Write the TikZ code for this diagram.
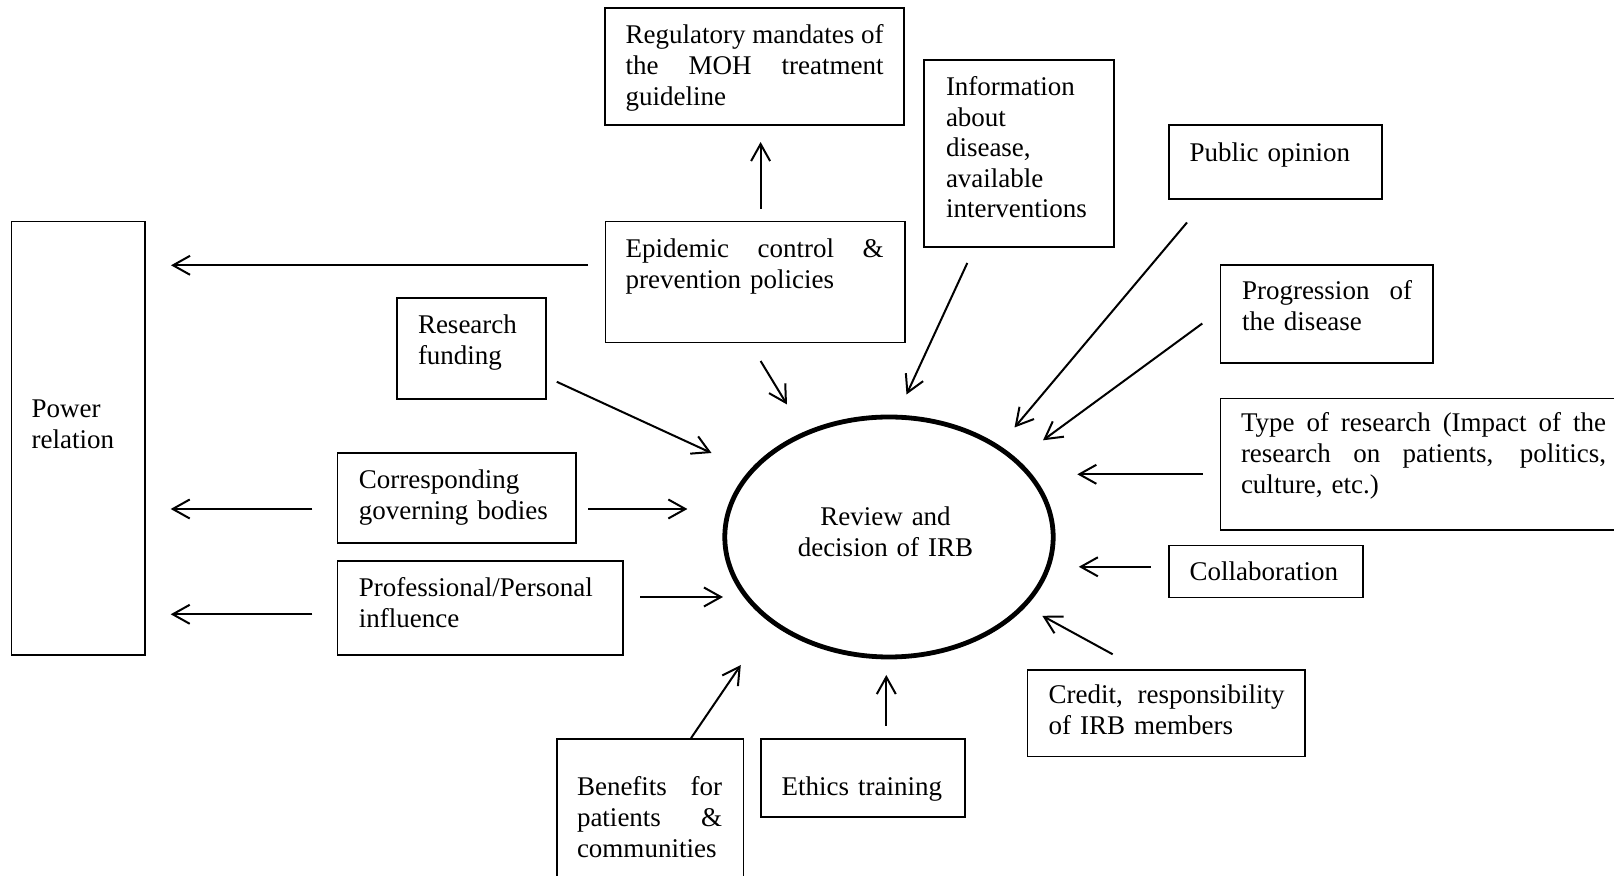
\documentclass[tikz,border=0pt]{standalone}
\usepackage{fontspec}
\setmainfont{Liberation Serif}
\usetikzlibrary{arrows.meta,fit}
\newcommand{\jline}[2]{\makebox[#1][s]{\spaceskip=0pt\xspaceskip=0pt\relax #2}}
\begin{document}
\begin{tikzpicture}[x=0.5pt,y=-0.5pt,
  box/.style={draw, line width=0.8pt, inner sep=0pt},
  txt/.style={inner sep=0pt, outer sep=0pt, align=left, font=\fontsize{13.5pt}{15.3pt}\selectfont},
  arr/.style={line width=1pt, -{Straight Barb[length=8.5pt,width=9.5pt,line width=1pt]}}]
\useasboundingbox (0,0) rectangle (1614,876);
\clip (0,0) rectangle (1614,876);
% boxes
\node[box, fit={(605,8)(904,125)}] (reg) {};
\node[box, fit={(924,60)(1114,247)}] (info) {};
\node[box, fit={(1169,125)(1382,199)}] (pub) {};
\node[box, fit={(1220.5,265)(1433,363)}] (prog) {};
\node[box, fit={(1220.5,398.5)(1640,530)}] (type) {};
\node[box, fit={(1169,545.7)(1363,597.7)}] (coll) {};
\node[box, fit={(1027.6,670)(1305,756.7)}] (cred) {};
\node[box, fit={(761,739)(965,817)}] (eth) {};
\node[box, fit={(556.8,739)(743.4,900)}] (ben) {};
\node[box, fit={(11.5,221.7)(145,655)}] (pow) {};
\node[box, fit={(605.6,221.7)(905,342.7)}] (epi) {};
\node[box, fit={(397,298)(546,399)}] (fund) {};
\node[box, fit={(337.5,453.3)(575.8,543.3)}] (corr) {};
\node[box, fit={(337.5,561)(622.8,655.3)}] (prof) {};
\draw[line width=2.4pt] (889,537) ellipse [x radius=164.2, y radius=120];
\coordinate (irbc) at (889,537);
% texts
\node[txt, anchor=base west, text width=129pt] (regT) at (625.7,44)
  {\jline{129pt}{Regulatory mandates of}\\\jline{129pt}{the MOH treatment}\\guideline};
\node[txt, anchor=base west, text width=90pt] (infoT) at (946,95.5)
  {Information\\about\\disease,\\available\\interventions};
\node[txt, anchor=base west, text width=90pt] (pubT) at (1189.7,161.5) {Public opinion};
\node[txt, anchor=base west, text width=85pt] (progT) at (1242,299.5)
  {\jline{85pt}{Progression of}\\the disease};
\node[txt, anchor=base west, text width=182.5pt] (typeT) at (1241,432)
  {\jline{182.5pt}{Type of research (Impact of the}\\\jline{182.5pt}{research on patients, politics,}\\culture, etc.)};
\node[txt, anchor=base west, text width=90pt] (collT) at (1189.7,581) {Collaboration};
\node[txt, anchor=base west, text width=118pt] (credT) at (1048.6,704)
  {\jline{118pt}{Credit, responsibility}\\of IRB members};
\node[txt, anchor=base west, text width=90pt] (ethT) at (781.6,796) {Ethics training};
\node[txt, anchor=base west, text width=72.5pt] (benT) at (577,796)
  {\jline{72.5pt}{Benefits for}\\\jline{72.5pt}{patients \&}\\communities};
\node[txt, anchor=base west, text width=60pt] (powT) at (31.6,417.5) {Power\\relation};
\node[txt, anchor=base west, text width=129pt] (epiT) at (625.7,257.5)
  {\jline{129pt}{Epidemic control \&}\\prevention policies};
\node[txt, anchor=base west, text width=70pt] (fundT) at (418,334) {Research\\funding};
\node[txt, anchor=base west, text width=110pt] (corrT) at (358.8,489) {Corresponding\\governing bodies};
\node[txt, anchor=base west, text width=130pt] (profT) at (358.8,596.5) {Professional/Personal\\influence};
\node[txt, anchor=base, text width=100pt, align=center] (irbT) at (885.5,525.5) {Review and\\decision of IRB};
% arrow end points
\coordinate (a1s) at (760.6,209); \coordinate (a1e) at (760.6,142);
\coordinate (a2s) at (588,265.3); \coordinate (a2e) at (171,265.3);
\coordinate (a3s) at (760.6,361); \coordinate (a3e) at (787,404.5);
\coordinate (a4s) at (556.8,381.8); \coordinate (a4e) at (711.5,453);
\coordinate (a5s) at (967.3,263); \coordinate (a5e) at (906.5,394.5);
\coordinate (a6s) at (1187,222.5); \coordinate (a6e) at (1014.5,427.5);
\coordinate (a7s) at (1202.3,323.5); \coordinate (a7e) at (1043,440.3);
\coordinate (a8s) at (1202.5,474.3); \coordinate (a8e) at (1077.3,474.3);
\coordinate (a9s) at (1150.7,566.8); \coordinate (a9e) at (1078.8,566.8);
\coordinate (a10s) at (1112.7,654.3); \coordinate (a10e) at (1042.3,615.8);
\coordinate (a11s) at (886.3,725.8); \coordinate (a11e) at (886.3,675);
\coordinate (a12s) at (691,738.2); \coordinate (a12e) at (740.8,665);
\coordinate (a13s) at (588,509); \coordinate (a13e) at (687.4,509);
\coordinate (a14s) at (312.4,509); \coordinate (a14e) at (170.7,509);
\coordinate (a15s) at (640,597); \coordinate (a15e) at (723,597);
\coordinate (a16s) at (312.4,614.3); \coordinate (a16e) at (170.7,614.3);
\foreach \i in {1,...,16} { \draw[arr] (a\i s) -- (a\i e); }
\end{tikzpicture}
\end{document}
